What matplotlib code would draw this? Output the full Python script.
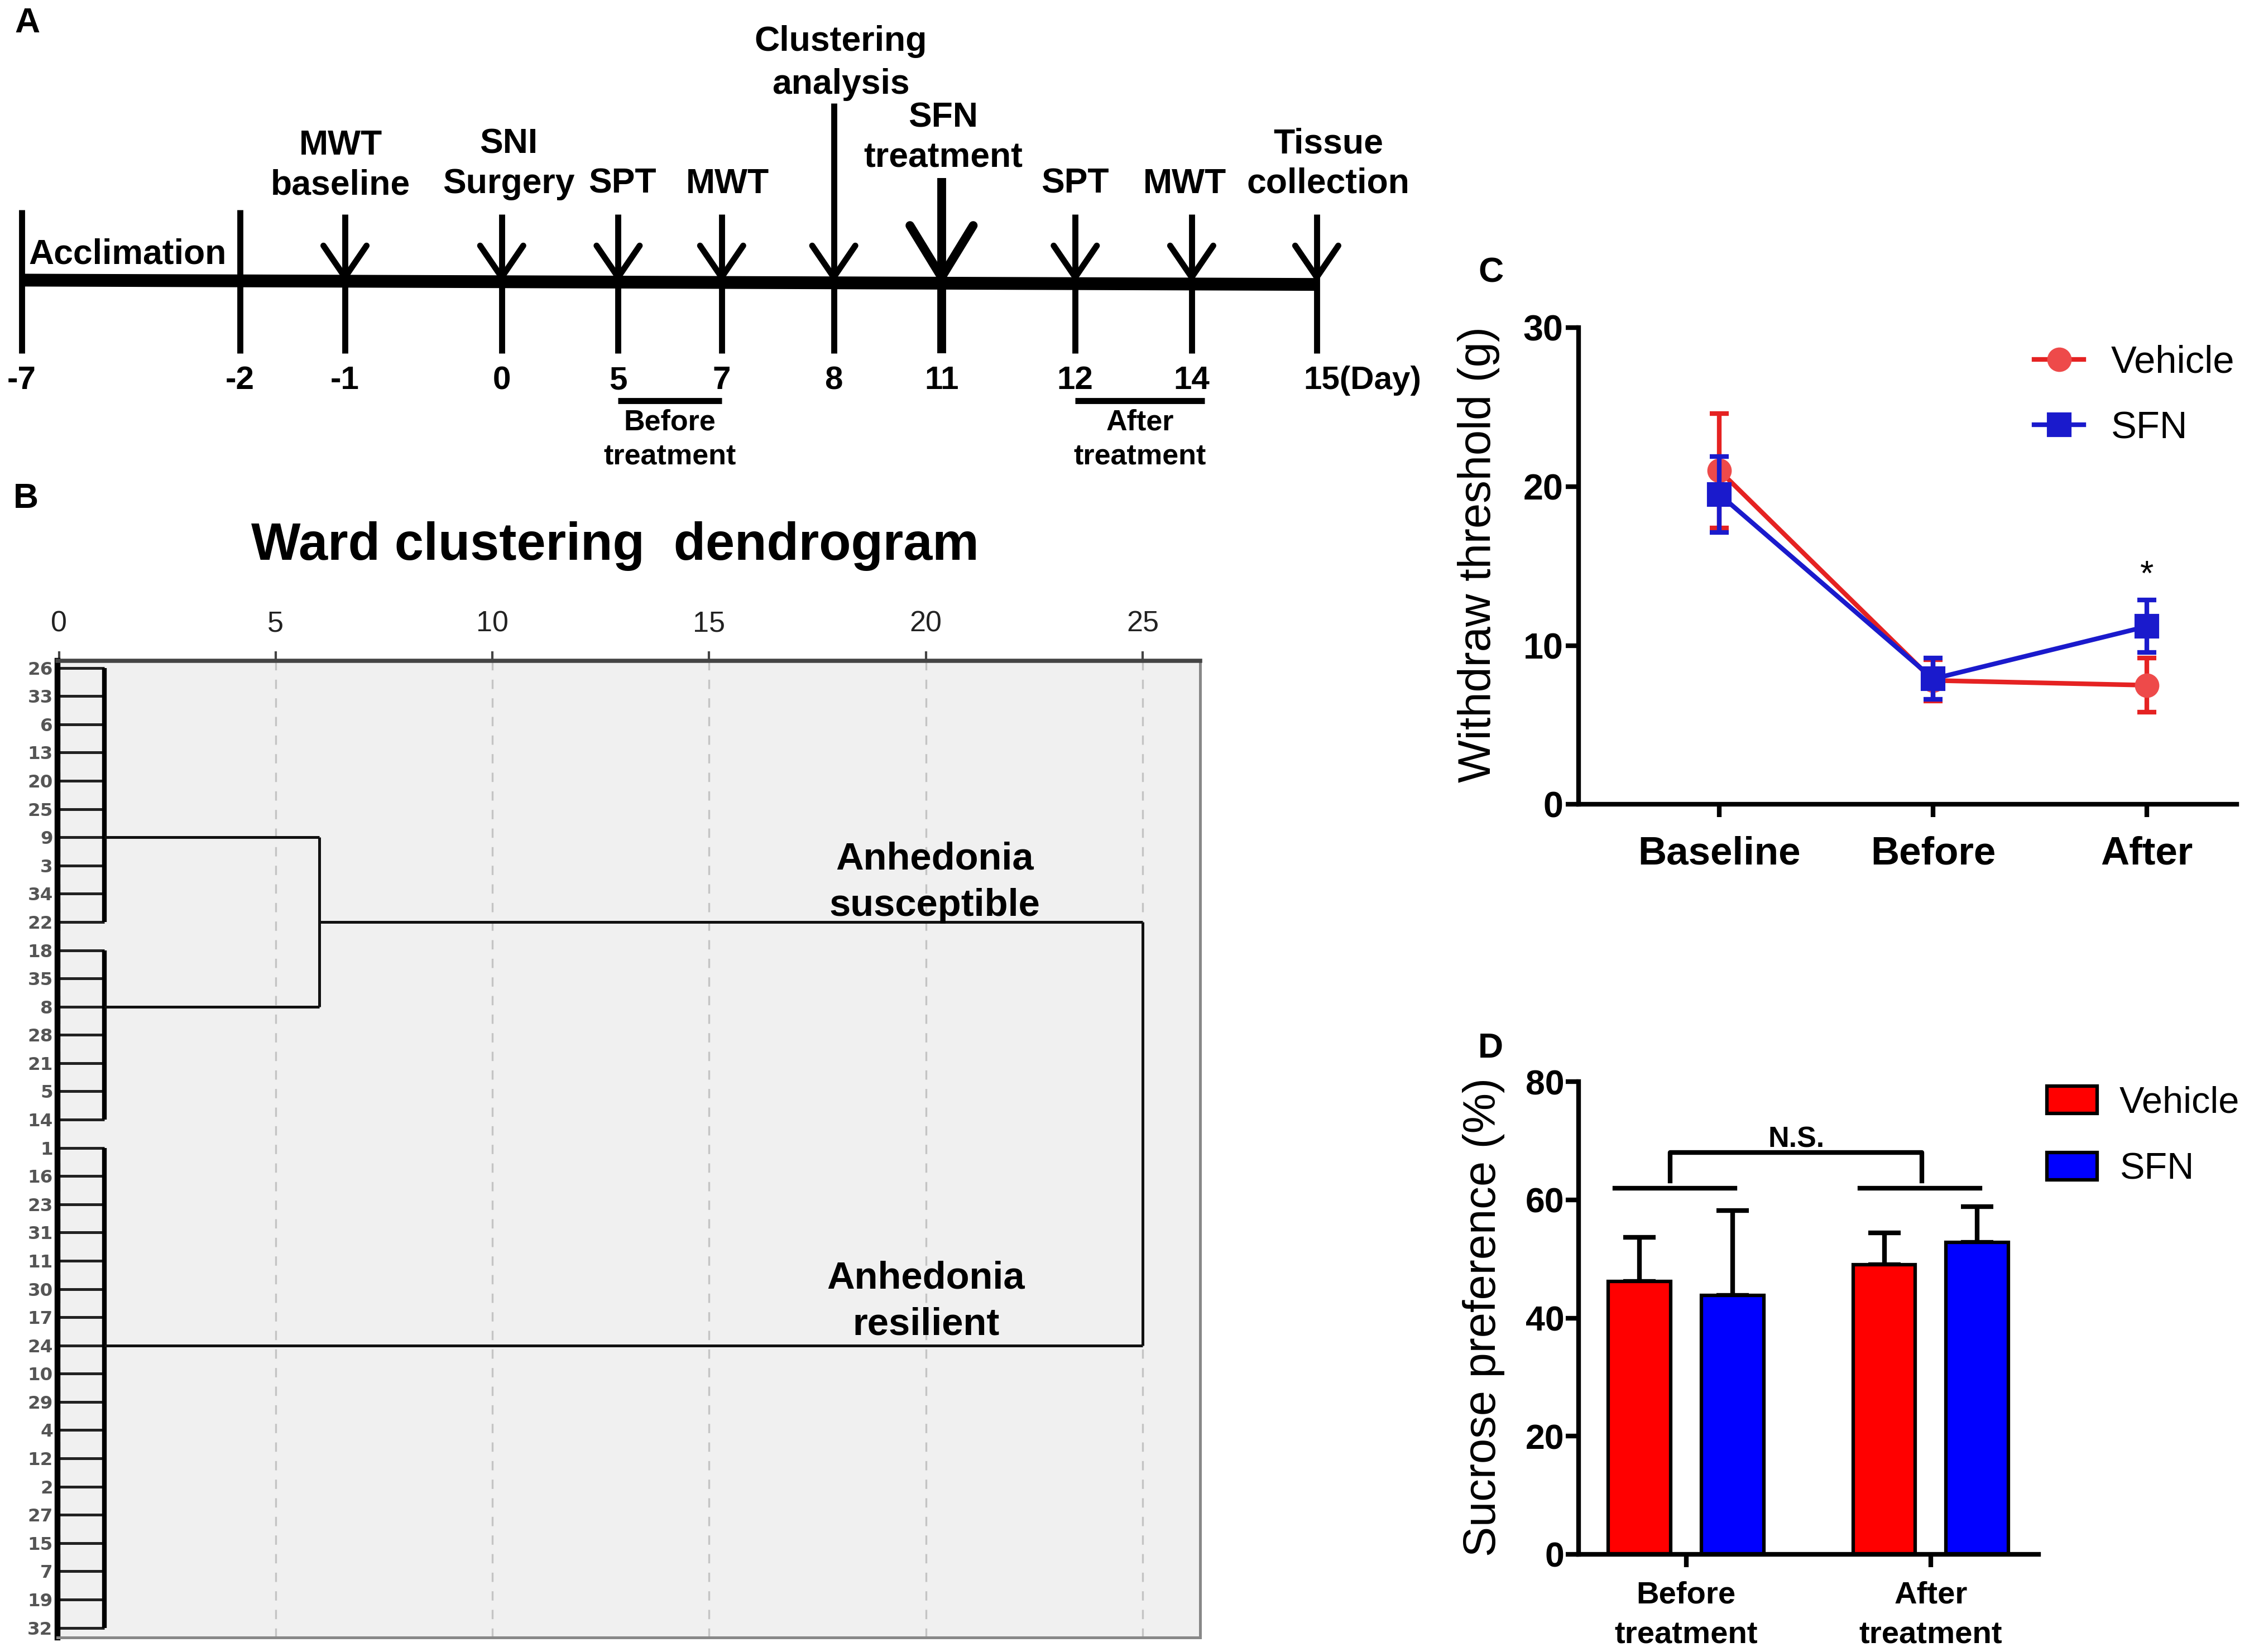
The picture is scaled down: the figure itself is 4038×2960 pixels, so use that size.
import matplotlib
matplotlib.use("Agg")
import matplotlib.pyplot as plt
from matplotlib.lines import Line2D
from matplotlib.patches import Patch

plt.rcParams['font.family'] = ['Liberation Sans', 'DejaVu Sans']

# ----- DATA -----
# panel A: experiment timeline
day_labels = ['-7', '-2', '-1', '0', '5', '7', '8', '11', '12', '14', '15(Day)']
event_labels = ['', '', 'MWT\nbaseline', 'SNI\nSurgery', 'SPT', 'MWT',
                'Clustering\nanalysis', 'SFN\ntreatment', 'SPT', 'MWT', 'Tissue\ncollection']
event_kind = ['bar', 'bar', 'arrow', 'arrow', 'arrow', 'arrow',
              'long', 'big', 'arrow', 'arrow', 'arrow']
period_labels = ['Before\ntreatment', 'After\ntreatment']

# panel B: ward dendrogram (leaf order top to bottom)
leaf_order = [26, 33, 6, 13, 20, 25, 9, 3, 34, 22,
              18, 35, 8, 28, 21, 5, 14,
              1, 16, 23, 31, 11, 30, 17, 24, 10, 29, 4, 12, 2, 27, 15, 7, 19, 32]
cluster_sizes = [10, 7, 18]
cluster_rows = [6, 12, 24]
leaf_link = 1.05
pair_link = 6.0
pair_row = 9
top_link = 25.0
cluster_names = ['Anhedonia\nsusceptible', 'Anhedonia\nresilient']

# panel C: mechanical withdrawal threshold
timepoints = ['Baseline', 'Before', 'After']
mwt_vehicle = [21.0, 7.8, 7.5]
mwt_vehicle_err = [3.6, 1.3, 1.7]
mwt_sfn = [19.5, 7.9, 11.2]
mwt_sfn_err = [2.4, 1.3, 1.65]

# panel D: sucrose preference
spt_groups = ['Before\ntreatment', 'After\ntreatment']
spt_vehicle = [46.2, 49.0]
spt_vehicle_err = [7.5, 5.4]
spt_sfn = [43.8, 52.8]
spt_sfn_err = [14.4, 6.1]

RED = '#e52222'
RED_MK = '#ee4a4a'
BLUE = '#1a1acc'

# ----- LAYOUT (reference pixel frame) -----
W, H = 1568, 1150
day_x = [15, 167, 240, 349, 430, 502, 580, 655, 748, 829, 916]
label_x = [0, 0, 237, 354, 433, 506, 585, 656, 748, 824, 924]
label_y = [0, 0, 115, 114, 128, 128, 44, 96, 128, 128, 114]
stem_top = {'bar': 146, 'arrow': 149, 'long': 72, 'big': 124}

fig = plt.figure(figsize=(4038 / 300, 2960 / 300), dpi=300)
ax0 = fig.add_axes([0, 0, 1, 1])
ax0.set_xlim(0, W)
ax0.set_ylim(H, 0)
ax0.axis('off')

# panel letters
for letter, (x, y) in zip('ABCD', [(19, 16), (18, 347), (1037, 190), (1037, 730)]):
    ax0.text(x, y, letter, fontsize=15, fontweight='bold', ha='center', va='center')

# ---- A: timeline ----
line_y = 196
ax0.plot([day_x[0], day_x[-1]], [line_y - 1, line_y + 2], color='black', lw=5.5,
         solid_capstyle='butt')
for i, kind in enumerate(event_kind):
    x = day_x[i]
    lw = 3.8 if kind == 'big' else 2.6
    ax0.plot([x, x], [stem_top[kind], 246], color='black', lw=lw, solid_capstyle='butt')
    if kind != 'bar':
        hw, hh = (22, 36) if kind == 'big' else (15, 22)
        tip = line_y - 3
        ax0.plot([x - hw, x, x + hw], [tip - hh, tip, tip - hh], color='black', lw=lw,
                 solid_capstyle='round', solid_joinstyle='miter')
    if event_labels[i]:
        ax0.text(label_x[i], label_y[i], event_labels[i], ha='center', va='center',
                 fontsize=15, fontweight='bold',
                 linespacing=1.4 if kind == 'long' else 1.27)
    if i == len(day_labels) - 1:
        ax0.text(x - 9, 265, day_labels[i], ha='left', va='center', fontsize=14, fontweight='bold')
    else:
        ax0.text(x, 265, day_labels[i], ha='center', va='center', fontsize=14, fontweight='bold')

ax0.text(20, 177, 'Acclimation', ha='left', va='center', fontsize=15, fontweight='bold')

for (x1, x2), lab in zip([(day_x[4], day_x[5]), (day_x[8], day_x[9] + 9)], period_labels):
    ax0.plot([x1, x2], [279, 279], color='black', lw=2.6, solid_capstyle='butt')
    ax0.text((x1 + x2) / 2, 306, lab, ha='center', va='center', fontsize=12.5,
             fontweight='bold', linespacing=1.3)

# ---- B: dendrogram ----
ax0.text(428, 380, 'Ward clustering  dendrogram', ha='center', va='center',
         fontsize=22.5, fontweight='bold')

axb = fig.add_axes([40 / W, 1 - 1140 / H, 795 / W, 680 / H])
axb.set_facecolor('#f0f0f0')
axb.set_xlim(-0.033, 26.33)
axb.set_ylim(34.35, -0.25)
axb.set_xticks(range(0, 26, 5))
axb.grid(axis='x', color='#c4c4c4', ls=(0, (5, 5)), lw=0.8)
axb.xaxis.tick_top()
axb.tick_params(axis='x', direction='out', length=4, width=1, colors='#444',
                labelsize=12.5, pad=6, labelcolor='#222')
rows = list(range(len(leaf_order)))
axb.set_yticks(rows, [str(v) for v in leaf_order])
axb.tick_params(axis='y', length=0, pad=2, labelsize=7.8, labelcolor='#555')
for t in axb.get_yticklabels():
    t.set_family('DejaVu Sans')
    t.set_fontweight('bold')
for side, (c, w) in {'left': ('black', 2.5), 'top': ('#444', 1.8),
                     'right': ('#888', 1.2), 'bottom': ('#888', 1.2)}.items():
    axb.spines[side].set_color(c)
    axb.spines[side].set_linewidth(w)

axb.hlines(rows, 0, leaf_link, color='#222', lw=1.2)
start = 0
for size in cluster_sizes:
    axb.vlines(leaf_link, start, start + size - 1, color='black', lw=2)
    start += size
axb.hlines(cluster_rows[:2], leaf_link, pair_link, color='#111', lw=1.2)
axb.vlines(pair_link, cluster_rows[0], cluster_rows[1], color='#111', lw=1.2)
axb.hlines(pair_row, pair_link, top_link, color='#111', lw=1.2)
axb.hlines(cluster_rows[2], leaf_link, top_link, color='#111', lw=1.2)
axb.vlines(top_link, pair_row, cluster_rows[2], color='#111', lw=1.2)
axb.text(20.2, 7.6, cluster_names[0], ha='center', va='center', fontsize=16.5,
         fontweight='bold', linespacing=1.38)
axb.text(20.0, 22.45, cluster_names[1], ha='center', va='center', fontsize=16.5,
         fontweight='bold', linespacing=1.38)


def style_axes(ax):
    for s in ['top', 'right']:
        ax.spines[s].set_visible(False)
    for s in ['left', 'bottom']:
        ax.spines[s].set_linewidth(2)
    ax.tick_params(axis='both', direction='out', length=5.5, width=2)
    for t in ax.get_yticklabels():
        t.set_fontweight('bold')
    for t in ax.get_xticklabels():
        t.set_fontweight('bold')


# ---- C: withdraw threshold ----
axc = fig.add_axes([1098 / W, 1 - 560 / H, 458 / W, 332 / H])
xc = list(range(len(timepoints)))
axc.errorbar(xc, mwt_vehicle, yerr=mwt_vehicle_err, fmt='none', ecolor=RED,
             elinewidth=2, capsize=4, capthick=2)
axc.plot(xc, mwt_vehicle, color=RED, lw=2, marker='o', ms=9.5, mfc=RED_MK, mec=RED_MK)
axc.errorbar(xc, mwt_sfn, yerr=mwt_sfn_err, fmt='none', ecolor=BLUE,
             elinewidth=2, capsize=4, capthick=2)
axc.plot(xc, mwt_sfn, color=BLUE, lw=2, marker='s', ms=9.5, mfc=BLUE, mec=BLUE)
axc.text(2, 14.4, '*', ha='center', va='center', fontsize=15)
axc.set_xlim(-0.66, 2.42)
axc.set_ylim(0, 30)
axc.set_yticks([0, 10, 20, 30])
axc.set_xticks(xc, timepoints)
style_axes(axc)
axc.tick_params(axis='y', labelsize=15.5, pad=1)
axc.tick_params(axis='x', labelsize=17, pad=8)
ax0.text(1028.5, 386, 'Withdraw threshold (g)', rotation=90, ha='center', va='center',
         fontsize=19.5)
handles_c = [Line2D([], [], color=RED, lw=2, marker='o', ms=9.5, mfc=RED_MK, mec=RED_MK),
             Line2D([], [], color=BLUE, lw=2, marker='s', ms=9.5, mfc=BLUE, mec=BLUE)]
fig.legend(handles_c, ['Vehicle', 'SFN'], loc='upper left',
           bbox_to_anchor=(1415 / W, 1 - 240 / H), frameon=False, fontsize=16.5,
           borderpad=0, borderaxespad=0, handlelength=1.3, handletextpad=0.7,
           labelspacing=0.78)

# ---- D: sucrose preference ----
axd = fig.add_axes([1098 / W, 1 - 1082 / H, 320 / W, 329 / H])
xd = list(range(len(spt_groups)))
off, bw = 0.19, 0.255
axd.bar([x - off for x in xd], spt_vehicle, width=bw, color='#ff0000',
        edgecolor='black', lw=1.5, zorder=2)
axd.bar([x + off for x in xd], spt_sfn, width=bw, color='#0000ff',
        edgecolor='black', lw=1.5, zorder=2)
axd.errorbar([x - off for x in xd], spt_vehicle, yerr=[[0, 0], spt_vehicle_err],
             fmt='none', ecolor='black', elinewidth=2, capsize=7, capthick=2, zorder=1)
axd.errorbar([x + off for x in xd], spt_sfn, yerr=[[0, 0], spt_sfn_err],
             fmt='none', ecolor='black', elinewidth=2, capsize=7, capthick=2, zorder=1)
# N.S. bracket
for x in xd:
    axd.plot([x - 0.29, x + 0.2], [62.0, 62.0], color='black', lw=2)
axd.plot([-0.065, -0.065, 0.965, 0.965], [63.2, 68.0, 68.0, 63.2], color='black', lw=2)
axd.text(0.45, 70.2, 'N.S.', ha='center', va='center', fontsize=12.5, fontweight='bold')
axd.set_xlim(-0.44, 1.44)
axd.set_ylim(0, 80)
axd.set_yticks([0, 20, 40, 60, 80])
axd.set_xticks(xd, spt_groups)
style_axes(axd)
axd.tick_params(axis='y', labelsize=15, pad=0.5)
axd.tick_params(axis='x', labelsize=13.5, pad=6)
for t in axd.get_xticklabels():
    t.set_linespacing(1.5)
ax0.text(1032, 917, 'Sucrose preference (%)', rotation=90, ha='center', va='center',
         fontsize=19.5)
handles_d = [Patch(facecolor='#ff0000', edgecolor='black', lw=1.5),
             Patch(facecolor='#0000ff', edgecolor='black', lw=1.5)]
fig.legend(handles_d, ['Vehicle', 'SFN'], loc='upper left',
           bbox_to_anchor=(1424 / W, 1 - 756 / H), frameon=False, fontsize=16,
           borderpad=0, borderaxespad=0, handlelength=1.35, handleheight=0.75,
           handletextpad=0.6, labelspacing=0.85)

fig.savefig('out.png', dpi=300)
